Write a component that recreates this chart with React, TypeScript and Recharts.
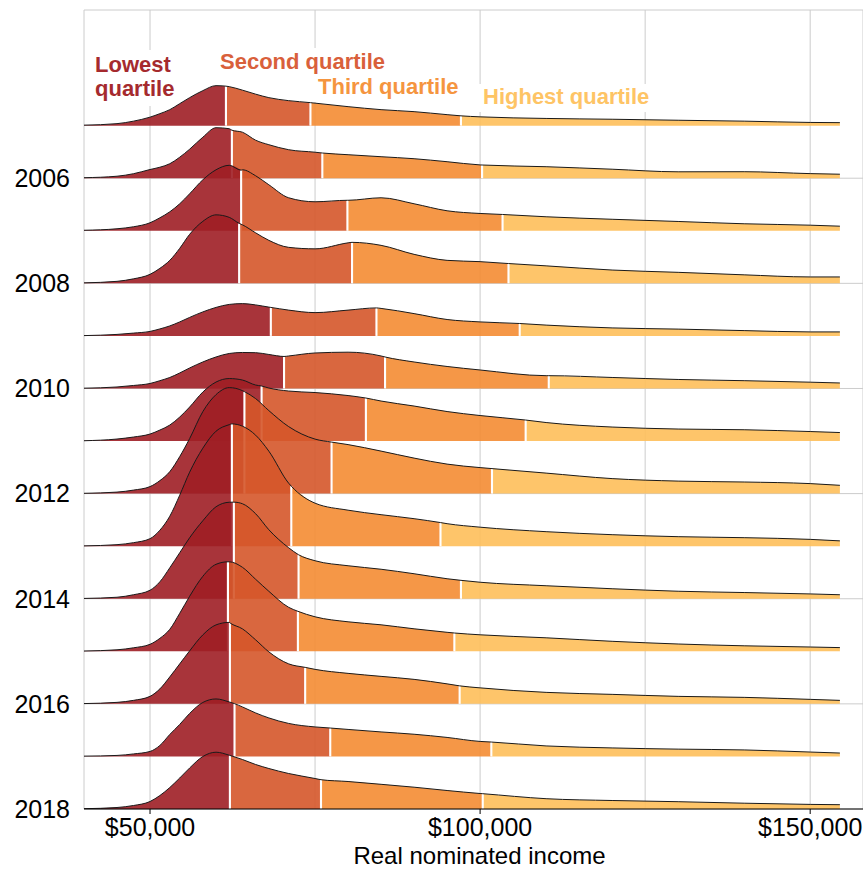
import React from "react";
import { ComposedChart, Area, XAxis, YAxis, CartesianGrid } from "recharts";

// income ($ thousands) at which each year's density curve was read
const incomeGrid = [40, 45, 47.5, 50, 51.5, 53, 54.5, 56, 58, 60, 62, 64, 66, 68, 71, 75, 80, 85, 90, 95, 100, 110, 120, 130, 140, 150, 154.5];

const years = [2005, 2006, 2007, 2008, 2009, 2010, 2011, 2012, 2013, 2014, 2015, 2016, 2017, 2018];

const density2005 = [0.5, 2, 4.5, 8.5, 12, 16, 22, 28, 35, 40, 39, 35.5, 31.5, 28, 25, 22.5, 19, 16, 14, 11, 8.8, 7.2, 6.4, 5.4, 4.5, 3.2, 3];
const density2006 = [0.5, 2, 4.5, 8.7, 11, 14.5, 21, 29, 41, 50.5, 49.5, 46, 38, 33.5, 28.5, 26, 23.5, 21.5, 19.5, 16.5, 13.3, 11.5, 9, 6.4, 6.5, 4.6, 4];
const density2007 = [0.5, 2, 4, 8, 13, 19, 27, 37, 51, 61, 65.5, 61, 55, 46, 33, 29, 30.5, 33, 27, 20, 17.3, 14, 11.5, 9.3, 7, 5.6, 4.6];
const density2008 = [0.5, 2, 4.5, 9, 15, 23, 35, 49, 62, 68.5, 66, 58.5, 50.5, 43, 36, 34.5, 40.5, 38, 29, 23, 21.7, 17.5, 13.3, 11, 8.5, 6.4, 6.4];
const density2009 = [0.3, 1.5, 2.8, 4.5, 7, 10, 14, 18.5, 24, 28.5, 31.5, 32.3, 31, 28.8, 25.8, 23.3, 25.8, 27.5, 22.3, 16.4, 14, 10.8, 8, 6.8, 5.3, 4, 4];
const density2010 = [0.3, 1.5, 3, 5, 7.8, 11, 15.5, 20.5, 26.5, 31.5, 35, 36, 35.8, 34, 32.5, 35.5, 36.3, 32.5, 26.5, 22, 18.5, 12.8, 11, 9, 7.8, 6.3, 5.5];
const density2011 = [0.3, 2, 4, 7, 11, 16, 24, 34, 49, 59, 62.5, 61, 56, 53, 50, 48.5, 45.5, 40, 35, 29.5, 25.5, 18.5, 14, 12, 11.3, 9.5, 8.5];
const density2012 = [0.3, 1.5, 3.5, 7, 13, 22, 37, 55, 82, 99, 106, 103, 95, 83, 67, 54.5, 49, 42.5, 35.5, 29.5, 26, 20.5, 15, 12.5, 11.6, 10, 8.3];
const density2013 = [0.3, 1.5, 3.5, 7.5, 16, 30, 51, 74, 98, 115, 121.5, 120, 111, 95, 63, 43, 36, 31.5, 27.5, 22.5, 19, 14.5, 11.5, 9.5, 8.5, 6.8, 5.3];
const density2014 = [0.3, 1.5, 4, 8.5, 17, 31, 46, 61, 78, 92, 96.5, 95, 85, 69, 51, 38, 33, 29.5, 25, 20, 16.5, 13, 10, 7.5, 6.2, 4.8, 4];
const density2015 = [0.3, 1.5, 3.5, 7, 13, 22, 38, 55, 75, 87, 89.5, 84, 72, 60, 44, 34.5, 29.5, 26.5, 22.5, 19, 16.5, 13.5, 10, 7.3, 5.5, 4.3, 3.7];
const density2016 = [0.3, 1.5, 3.5, 7.5, 15, 27, 40, 53, 69, 79, 81.5, 75, 64, 52, 40, 34.5, 30.5, 27.5, 24.5, 20, 16, 11.5, 9.5, 7.5, 6.5, 4.5, 3.5];
const density2017 = [0.3, 1, 2.5, 5, 11, 22, 32, 43, 54, 57.5, 54.5, 49.5, 43.5, 38.5, 33, 29.5, 27, 24.5, 22.2, 19, 15, 10.5, 8.5, 7.3, 6.5, 4.4, 3.4];
const density2018 = [0.3, 1.5, 3.5, 7.5, 13.5, 21.5, 31, 41, 52.5, 56.8, 53.8, 49.5, 44.5, 40.5, 35.5, 30.5, 27.5, 24.7, 21.8, 18.5, 15.5, 10.3, 8.5, 7.3, 5.8, 4.6, 4.3];

const densities = [
  density2005, density2006, density2007, density2008, density2009, density2010, density2011,
  density2012, density2013, density2014, density2015, density2016, density2017, density2018,
];

// quartile cut points ($ thousands) and the curve height at each cut
const quartileCuts = [
  [61.5, 74.3, 97.1],
  [62.4, 76.1, 100.3],
  [63.8, 79.9, 103.4],
  [63.5, 80.6, 104.3],
  [68.3, 84.3, 106.0],
  [70.3, 85.6, 110.4],
  [66.9, 82.7, 106.9],
  [64.3, 77.5, 101.8],
  [62.4, 71.4, 94.0],
  [62.7, 72.5, 97.1],
  [61.8, 72.4, 96.1],
  [62.1, 73.5, 96.9],
  [62.8, 77.3, 101.7],
  [62.1, 75.9, 100.4],
];
const cutDensity = [
  [39.5, 23, 9.8],
  [48, 25.2, 13.2],
  [60.6, 30.5, 16.3],
  [60, 41, 19.8],
  [28.5, 28, 12.4],
  [32, 31.5, 12.8],
  [55, 43, 21],
  [102, 51.5, 25],
  [122.3, 60, 23.6],
  [96.6, 44, 18.4],
  [89.5, 40, 18.3],
  [81, 36.5, 18],
  [52.8, 28.4, 14.4],
  [53.6, 29.3, 15.3],
];

const quartileColors = ["#9e1e25", "#d5572a", "#f48c33", "#febf5a"];
const labelColors = ["#a52a2e", "#d9603b", "#f5953f", "#fec465"];

const incomeTicks = [50, 75, 100, 125, 150];
const yearTicks = [0, 2, 4, 6, 8, 10, 12];

const ROW_DENSITY = 52.57; // density that equals one row of spacing
const LAST_YEAR = 2018;
const FONT = "'Liberation Sans', Arial, Helvetica, sans-serif";

type Pt = { x: number; h: number };

const rows = years.map((year, i) => {
  const base = LAST_YEAR - year;
  const cuts = quartileCuts[i];
  const pts: Pt[] = [
    ...incomeGrid.map((x, j) => ({ x, h: densities[i][j] })),
    ...cuts.map((x, k) => ({ x, h: cutDensity[i][k] })),
  ].sort((a, b) => a.x - b.x);
  const toRow = (p: Pt) => ({ x: p.x, range: [base, base + p.h / ROW_DENSITY], top: base + p.h / ROW_DENSITY });
  const bounds = [incomeGrid[0], ...cuts, incomeGrid[incomeGrid.length - 1]];
  const segments = [0, 1, 2, 3].map((q) =>
    pts.filter((p) => p.x >= bounds[q] && p.x <= bounds[q + 1]).map(toRow)
  );
  const dividers = cuts.map((c, k) => {
    const t = base + cutDensity[i][k] / ROW_DENSITY;
    return [
      { x: c - 0.16, range: [base, t] },
      { x: c + 0.16, range: [base, t] },
    ];
  });
  return { year, segments, dividers, outline: pts.map(toRow) };
});

function IncomeTick(props: any) {
  const { x, y, payload } = props;
  const v = payload.value;
  if (v % 50 !== 0) return <g />;
  return (
    <g>
      <line x1={x} x2={x} y1={y - 5} y2={y} stroke="#000" strokeWidth={1} />
      <text x={x} y={y + 22} textAnchor="middle" fontSize={25} fontFamily={FONT} fill="#000">
        {"$" + (v * 1000).toLocaleString("en-US")}
      </text>
    </g>
  );
}

const labels = [
  { lines: ["Lowest", "quartile"], x: 95, y: 71.7, box: [91, 50, 84, 56] },
  { lines: ["Second quartile"], x: 220, y: 68.5, box: [216, 48, 172, 27] },
  { lines: ["Third quartile"], x: 318, y: 94.3, box: [314, 75, 150, 27] },
  { lines: ["Highest quartile"], x: 483, y: 104.3, box: [479, 84, 176, 28] },
];

export default function App() {
  const items: React.ReactNode[] = [];
  rows.forEach((r) => {
    r.segments.forEach((seg, q) => {
      items.push(
        <Area
          key={`${r.year}-q${q}`}
          data={seg}
          dataKey="range"
          type="monotone"
          stroke="none"
          fill={quartileColors[q]}
          fillOpacity={0.9}
          dot={false}
          activeDot={false}
          isAnimationActive={false}
        />
      );
    });
    r.dividers.forEach((d, k) => {
      items.push(
        <Area
          key={`${r.year}-d${k}`}
          data={d}
          dataKey="range"
          type="linear"
          stroke="none"
          fill="#ffffff"
          fillOpacity={1}
          dot={false}
          activeDot={false}
          isAnimationActive={false}
        />
      );
    });
    items.push(
      <Area
        key={`${r.year}-line`}
        data={r.outline}
        dataKey="top"
        type="monotone"
        stroke="#1a1a1a"
        strokeWidth={1}
        fill="none"
        dot={false}
        activeDot={false}
        isAnimationActive={false}
      />
    );
  });

  return (
    <div style={{ position: "absolute", left: 0, top: 0, width: 863, height: 869, background: "#fff" }}>
      <ComposedChart width={863} height={869} margin={{ top: 10, right: 0, bottom: 0, left: 0 }}>
        <CartesianGrid stroke="#cccccc" strokeWidth={1} />
        <XAxis
          dataKey="x"
          type="number"
          domain={[40, 158]}
          allowDataOverflow
          ticks={incomeTicks}
          interval={0}
          tick={<IncomeTick />}
          tickLine={false}
          tickSize={5}
          tickMargin={0}
          axisLine={{ stroke: "#000", strokeWidth: 1 }}
          height={60}
          label={{
            value: "Real nominated income",
            position: "insideBottom",
            offset: 5.5,
            dx: 6,
            fill: "#000",
            fontSize: 24,
            fontFamily: FONT,
          }}
        />
        <YAxis
          type="number"
          domain={[0, 15.2]}
          allowDataOverflow
          ticks={yearTicks}
          interval={0}
          tickFormatter={(v: number) => String(LAST_YEAR - v)}
          tick={{ fontSize: 25, fill: "#000", fontFamily: FONT }}
          tickLine={false}
          tickSize={0}
          tickMargin={14}
          axisLine={false}
          width={84}
        />
        {items}
      </ComposedChart>
      <svg width={863} height={869} style={{ position: "absolute", left: 0, top: 0, pointerEvents: "none" }}>
        {labels.map((l, i) => (
          <g key={i}>
            <rect x={l.box[0]} y={l.box[1]} width={l.box[2]} height={l.box[3]} fill="#fff" />
            {l.lines.map((t, j) => (
              <text
                key={j}
                x={l.x}
                y={l.y + j * 24}
                fill={labelColors[i]}
                fontSize={22}
                fontWeight="bold"
                fontFamily={FONT}
              >
                {t}
              </text>
            ))}
          </g>
        ))}
      </svg>
    </div>
  );
}
